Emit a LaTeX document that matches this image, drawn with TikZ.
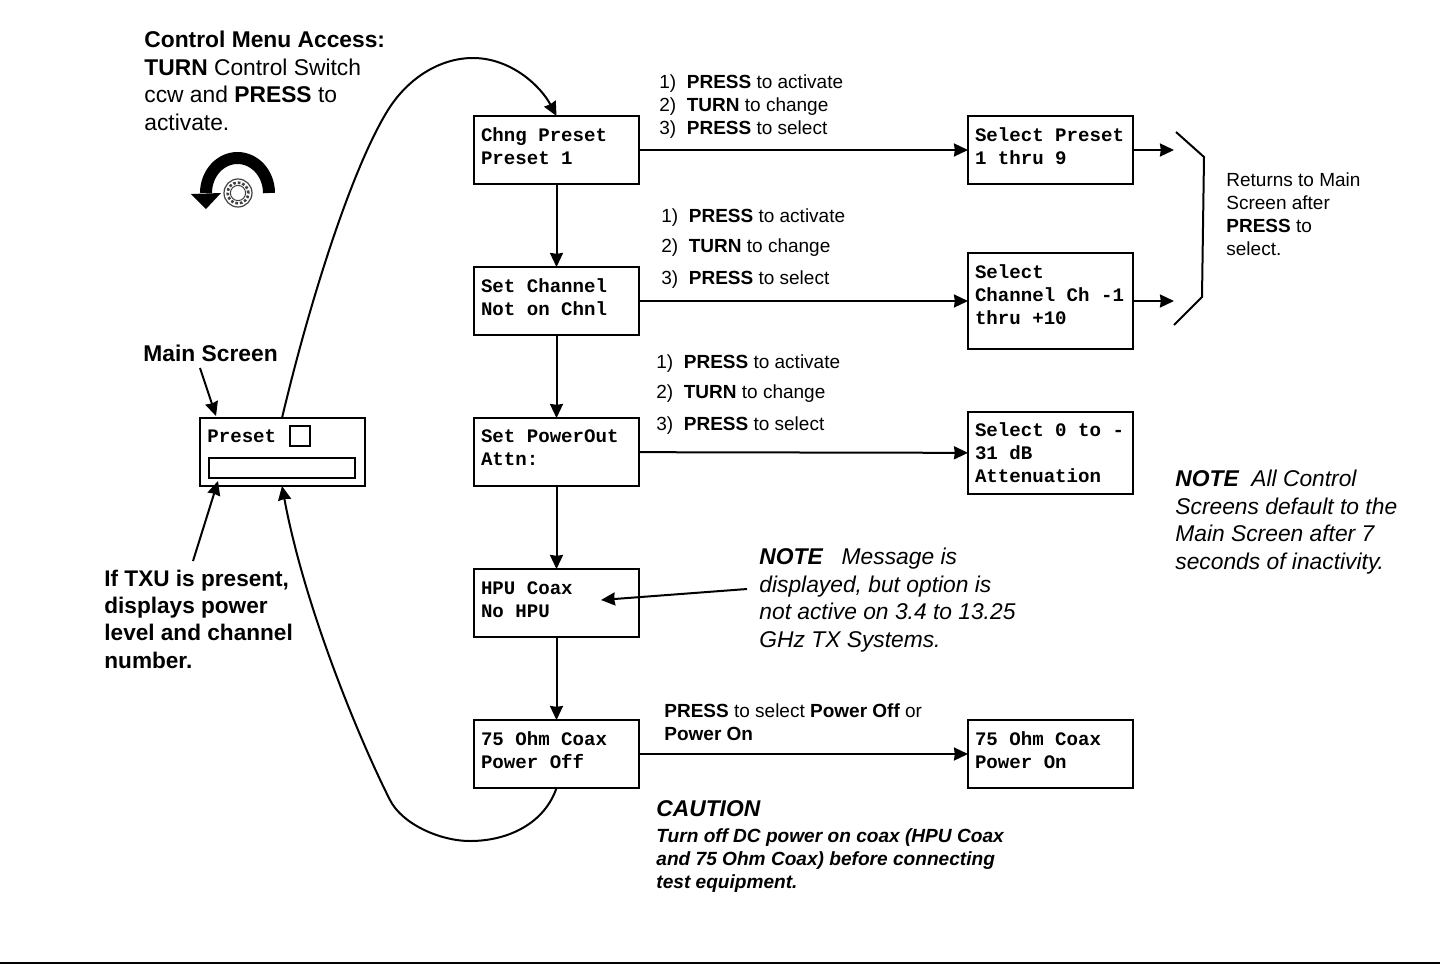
\documentclass[tikz,border=0pt]{standalone}
\usepackage{fontspec}
\setmainfont{Liberation Sans}
\setmonofont{Liberation Mono}
\usetikzlibrary{arrows.meta,positioning}
\newcommand{\boxtail}[1]{\rule[-#1]{0pt}{#1}}

\begin{document}
\begin{tikzpicture}[x=0.5pt,y=-0.5pt,% reference pixels, y runs down
					>={Stealth[length=7pt,width=6.5pt,inset=0.4pt]},
					every edge/.style={draw,line width=1pt},
					screen/.style={
						rectangle,draw=black,line width=1pt,outer sep=0pt,
						minimum width=82.5pt,minimum height=34pt,
						text width=75.5pt,inner xsep=3.5pt,inner ysep=0pt,
						align=flush left,  		% keeps the full word space of the mono font
						font=\ttfamily\bfseries\fontsize{9.55}{11.5}\selectfont
						},
					label/.style={anchor=north west,inner sep=0pt,align=left,font=\fontsize{11.4}{13.75}\selectfont},
					steps/.style={anchor=north west,inner sep=0pt,align=left,font=\fontsize{9.5}{11.5}\selectfont},
					remark/.style={anchor=north west,inner sep=0pt,align=left,font=\itshape\fontsize{11.4}{13.75}\selectfont}
					]
\useasboundingbox (0,0) rectangle (1440,964);

% menu column
\node[screen](R1) at (556.5,150){Chng Preset\\Preset 1\boxtail{4.25pt}};
\node[screen](R2)[below=41.5pt of R1]{Set Channel\\Not on Chnl\boxtail{4.25pt}};
\node[screen](R3)[below=41.5pt of R2]{Set PowerOut\\Attn:\boxtail{4.25pt}};
\node[screen](R4)[below=41.5pt of R3]{HPU Coax\\No HPU\boxtail{3.5pt}};
\node[screen](R5)[below=41.5pt of R4]{75 Ohm Coax\\Power Off\boxtail{4.25pt}};

% select column
\node[screen](S1)[right=164.5pt of R1]{Select Preset\\1 thru 9\boxtail{4.25pt}};
\node[screen,minimum height=48pt](S2)[right=164.5pt of R2]{Select\\Channel Ch -1\\thru +10\boxtail{6pt}};
\node[screen,minimum height=41pt](S3) at (1050.5,453){Select 0 to -\\31 dB\\Attenuation};
\node[screen](S5)[right=164.5pt of R5]{75 Ohm Coax\\Power On\boxtail{4.25pt}};

% main screen
\node[screen](Main) at (282,452){};
\node[anchor=west,inner sep=0pt,font=\ttfamily\bfseries\fontsize{9.55}{11.5}\selectfont](MainText) at (207,436){Preset};
\node[rectangle,draw=black,line width=1pt,minimum size=10pt,inner sep=0pt](MainSquare) at (300,436){};
\node[rectangle,draw=black,line width=1pt,minimum width=73pt,minimum height=10pt,inner sep=0pt](MainBar) at (282,468){};

% texts
\node[label](Access) at (144,31){\textbf{Control Menu Access:}\\\textbf{TURN} Control Switch\\ccw and \textbf{PRESS} to\\activate.};
\node[label](MainLabel) at (143,345){\textbf{Main Screen}};
\node[label,font=\bfseries\fontsize{11.3}{13.65}\selectfont](TxuLabel) at (104,569.5){If TXU is present,\\displays power\\level and channel\\number.};
\node[steps](Steps1) at (659,74){1)\ \ \textbf{PRESS} to activate\\2)\ \ \textbf{TURN} to change\\3)\ \ \textbf{PRESS} to select};
\node[steps](Steps2) at (661,208){1)\ \ \textbf{PRESS} to activate\\[3.6pt]2)\ \ \textbf{TURN} to change\\[4.7pt]3)\ \ \textbf{PRESS} to select};
\node[steps](Steps3) at (656,354){1)\ \ \textbf{PRESS} to activate\\[3.6pt]2)\ \ \textbf{TURN} to change\\[4.7pt]3)\ \ \textbf{PRESS} to select};
\node[steps](Steps5) at (664,703.5){\textbf{PRESS} to select \textbf{Power Off} or\\\textbf{Power On}};
\node[steps](Returns) at (1226,172){Returns to Main\\Screen after\\\textbf{PRESS} to\\select.};
\node[remark](NoteHpu) at (759,548){\textbf{NOTE}\ \ \ Message is\\displayed, but option is\\not active on 3.4 to 13.25\\GHz TX Systems.};
\node[remark](NoteAll) at (1175,470){\textbf{NOTE}\ \ All Control\\Screens default to the\\Main Screen after 7\\seconds of inactivity.};
\node[remark,font=\itshape\bfseries\fontsize{11.4}{13.75}\selectfont](Caution) at (656,800){CAUTION};
\node[steps,font=\itshape\bfseries\fontsize{9.55}{11.5}\selectfont](CautionText) at (656,828){Turn off DC power on coax (HPU Coax\\and 75 Ohm Coax) before connecting\\test equipment.};

% free ends
\coordinate (MainFrom) at (200,368);
\coordinate (MainTo) at (216,416);
\coordinate (TxuFrom) at (193,561);
\coordinate (TxuTo) at (218,481);
\coordinate (NoteFrom) at (747,589);
\coordinate (NoteTo) at (601,600);
\coordinate (Out1) at (1174,150);
\coordinate (Out2) at (1174,301);
\coordinate (BrA) at (1176,132);
\coordinate (BrB) at (1204,157);
\coordinate (BrC) at (1202,297);
\coordinate (BrD) at (1174,325);

\path[->]
(R1)edge (R2)
(R2)edge (R3)
(R3)edge (R4)
(R4)edge (R5)
(R1)edge (S1)
(R2)edge (S2)
(R3)edge (S3)
(R5)edge (S5)
(S1)edge (Out1)
(S2)edge (Out2)
(MainFrom)edge (MainTo)
(TxuFrom)edge (TxuTo)
(NoteFrom)edge (NoteTo)
;
\draw[line width=1pt] (BrA) -- (BrB) -- (BrC) -- (BrD);

% the two long loops
\draw[->,line width=1pt] (Main.north) .. controls (310,300) and (352,168) .. (388,110) .. controls (408,78) and (440,58) .. (473,58) .. controls (510,58) and (540,85) .. (R1.north);
\draw[->,line width=1pt] (R5.south) .. controls (545,822) and (510,841) .. (470,841) .. controls (440,841) and (402,824) .. (390,800) .. controls (362,745) and (305,610) .. (Main.south);

% control switch
\node[circle,draw=black!75,line width=0.6pt,minimum size=14pt,inner sep=0pt](Knob) at (238,193){};
\draw[black!75,densely dotted,line width=1.3pt] (Knob) circle (5.2pt);
\draw[black!75,line width=0.5pt] (Knob) circle (3.8pt);
\draw[line width=6pt] (269,193) arc[start angle=0,end angle=180,x radius=15.75pt,y radius=17.5pt];
\fill (191,194) -- (221,193) -- (206,209) -- cycle;

% rule at the foot of the page
\draw[line width=1pt] (0,963) -- (1440,963);
\end{tikzpicture}
\end{document}
